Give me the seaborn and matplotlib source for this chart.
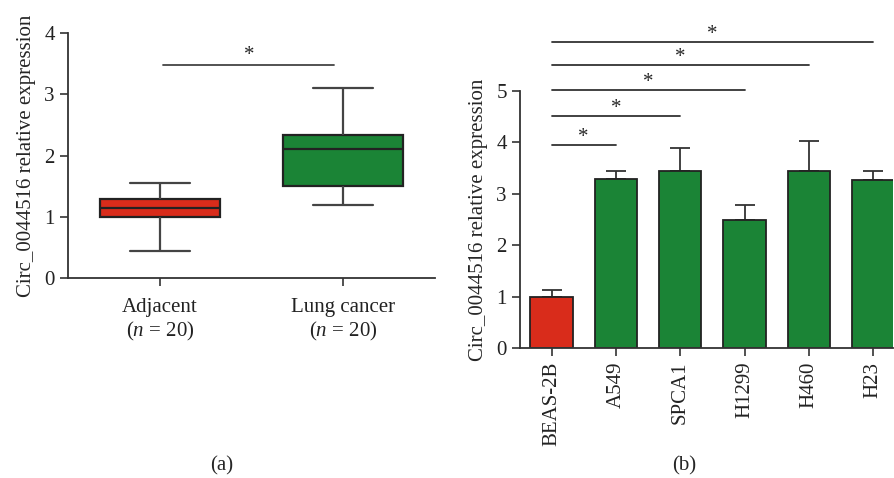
import numpy as np
import pandas as pd
import matplotlib
matplotlib.use("Agg")
import matplotlib.pyplot as plt
import seaborn as sns

# (a) five-number summaries: min, Q1, median, Q3, max
groups = ["Adjacent", "Lung cancer"]
group_labels = ["Adjacent\n($\\mathit{n}$ = 20)", "Lung cancer\n($\\mathit{n}$ = 20)"]
adjacent_stats = [0.44, 1.00, 1.14, 1.29, 1.56]
lung_stats = [1.19, 1.50, 2.11, 2.34, 3.10]

# (b) cell line means and upper error bars
cell_lines = ["BEAS-2B", "A549", "SPCA1", "H1299", "H460", "H23"]
expr_mean = [1.00, 3.29, 3.44, 2.50, 3.44, 3.27]
expr_err = [0.14, 0.15, 0.46, 0.28, 0.59, 0.17]

# significance bars in (b): (from, to, height)
sig_pairs = [(0, 1, 3.95), (0, 2, 4.51), (0, 3, 5.02), (0, 4, 5.50), (0, 5, 5.94)]

red = "#D92C1B"
green = "#1B8436"
edge = "#222222"

sns.set_style("ticks")
plt.rcParams["font.family"] = ["Liberation Serif", "DejaVu Serif"]
plt.rcParams["mathtext.fontset"] = "custom"
plt.rcParams["mathtext.rm"] = "Liberation Serif"
plt.rcParams["mathtext.it"] = "Liberation Serif:italic"
plt.rcParams["font.size"] = 14

fig = plt.figure(figsize=(8.95, 4.78), dpi=100)
ax1 = fig.add_axes([0.076, 0.418, 0.410, 0.513])
ax2 = fig.add_axes([0.581, 0.271, 0.417, 0.539])

# ---- panel (a) ----
box_df = pd.DataFrame({
    "group": [groups[0]] * 5 + [groups[1]] * 5,
    "value": adjacent_stats + lung_stats,
})
sns.boxplot(data=box_df, x="group", y="value", hue="group", order=groups,
            palette=[red, green], saturation=1, whis=np.inf, width=0.656,
            linewidth=1.6, linecolor=edge, legend=False, ax=ax1,
            whiskerprops=dict(color="#444444"), capprops=dict(color="#444444"),
            boxprops=dict(edgecolor=edge), medianprops=dict(color=edge))
ax1.set_xlim(-0.5, 1.5)
ax1.set_ylim(0, 4)
ax1.set_yticks([0, 1, 2, 3, 4])
ax1.set_xticks([0, 1])
ax1.set_xticklabels(group_labels, fontsize=15, linespacing=1.2)
ax1.set_xlabel("")
ax1.set_ylabel("Circ_0044516 relative expression", fontsize=15, labelpad=6)
ax1.plot([0.02, 0.95], [3.48, 3.48], color="#444444", lw=1.3, clip_on=False)
ax1.text(0.485, 3.47, "*", ha="center", va="bottom", fontsize=15)
sns.despine(ax=ax1)

# ---- panel (b) ----
bar_df = pd.DataFrame({"line": cell_lines, "mean": expr_mean})
sns.barplot(data=bar_df, x="line", y="mean", hue="line", order=cell_lines,
            palette=[red] + [green] * 5, saturation=1, width=0.66,
            edgecolor=edge, linewidth=1.3, legend=False, ax=ax2)
ax2.errorbar(range(len(cell_lines)), expr_mean,
             yerr=[np.zeros(len(expr_err)), expr_err], fmt="none",
             ecolor="#333333", elinewidth=1.3, capsize=7.5, capthick=1.3, zorder=0)
ax2.set_xlim(-0.49, 5.31)
ax2.set_ylim(0, 5)
ax2.set_yticks([0, 1, 2, 3, 4, 5])
ax2.set_xticks(range(len(cell_lines)))
ax2.set_xticklabels(cell_lines, rotation=90, fontsize=15)
ax2.set_xlabel("")
ax2.set_ylabel("Circ_0044516 relative expression", fontsize=15, labelpad=6)
for i, j, h in sig_pairs:
    ax2.plot([i, j], [h, h], color="#333333", lw=1.3, clip_on=False)
    ax2.text((i + j) / 2, h - 0.04, "*", ha="center", va="bottom",
             fontsize=15, clip_on=False)
sns.despine(ax=ax2)

for ax in (ax1, ax2):
    ax.tick_params(direction="out", length=6, width=1.2, colors="#333333",
                   labelcolor="#222222", labelsize=15)
    for s in ("left", "bottom"):
        ax.spines[s].set_linewidth(1.3)
        ax.spines[s].set_color("#333333")
ax1.tick_params(axis="x", pad=8)

fig.text(0.248, 0.005, "(a)", ha="center", va="bottom", fontsize=15)
fig.text(0.765, 0.005, "(b)", ha="center", va="bottom", fontsize=15)

fig.savefig("out.png", dpi=100)
